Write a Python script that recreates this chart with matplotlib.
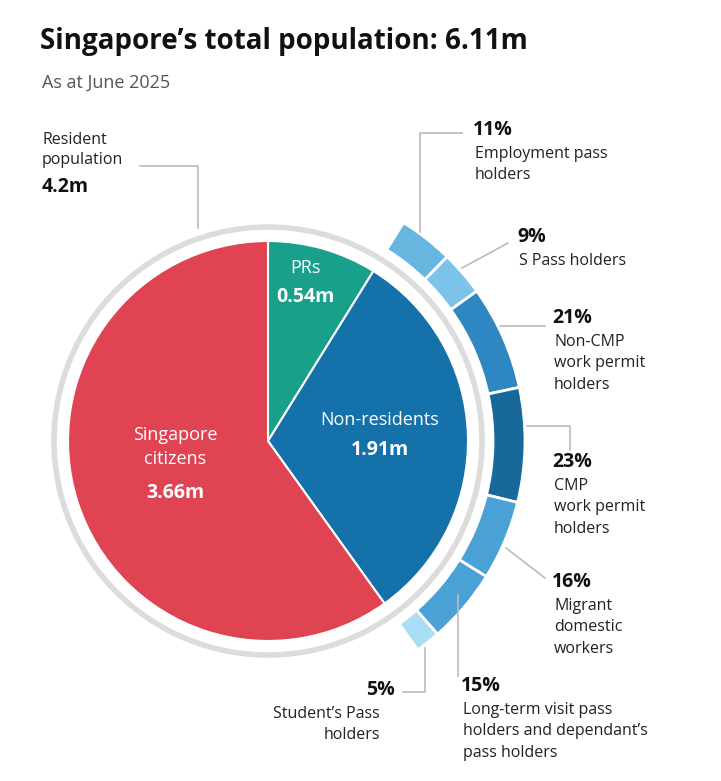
import matplotlib.pyplot as plt

# data
groups = ["PRs", "Non-residents", "Singapore citizens"]
group_values = [0.54, 1.91, 3.66]
group_colors = ["#18a08a", "#1571aa", "#e04453"]

pass_labels = ["Employment pass\nholders", "S Pass holders", "Non-CMP\nwork permit\nholders",
               "CMP\nwork permit\nholders", "Migrant\ndomestic\nworkers",
               "Long-term visit pass\nholders and dependant\u2019s\npass holders",
               "Student\u2019s Pass\nholders"]
pass_shares = [11, 9, 21, 23, 16, 15, 5]
pass_colors = ["#67b6e0", "#7cc3ea", "#2e87c2", "#18699a", "#4aa1d6", "#4aa1d6", "#a9def6"]

plt.rcParams["font.family"] = ["Open Sans", "DejaVu Sans"]
fig = plt.figure(figsize=(7.21, 7.81), dpi=100)
ax = fig.add_axes([0, 0, 1, 1])

cx, cy = 268, 441

# y axis is flipped, so start at -90 and go counterclockwise in data = clockwise on screen
ax.pie(group_values, colors=group_colors, startangle=-90, counterclock=True,
       center=(cx, cy), radius=200, frame=True,
       wedgeprops=dict(edgecolor="white", linewidth=1.5))

ring = plt.Circle((cx, cy), 214, fill=False, edgecolor="#dcdcdc", linewidth=4)
ax.add_patch(ring)

nonres = group_values[1]
outer_vals = [group_values[0]] + [nonres * s / sum(pass_shares) for s in pass_shares] + [group_values[2]]
outer_cols = ["none"] + pass_colors + ["none"]
wedges, _ = ax.pie(outer_vals, colors=outer_cols, startangle=-90, counterclock=True,
                   center=(cx, cy), radius=257, frame=True,
                   wedgeprops=dict(width=32, edgecolor="white", linewidth=2))
wedges[0].set_edgecolor("none")
wedges[-1].set_edgecolor("none")

ax.set_xlim(0, 721)
ax.set_ylim(781, 0)
ax.set_aspect("equal")
ax.axis("off")

# titles
ax.text(40, 42, "Singapore\u2019s total population: 6.11m", fontsize=20, fontweight="bold",
        va="center", color="#111")
ax.text(42, 83, "As at June 2025", fontsize=13, va="center", color="#555")

# inner labels
ax.text(305, 268, "PRs", color="white", fontsize=13, ha="center", va="center")
ax.text(305, 297, "0.54m", color="white", fontsize=14, fontweight="bold", ha="center", va="center")
ax.text(380, 420, "Non-residents", color="white", fontsize=13, ha="center", va="center")
ax.text(380, 450, "1.91m", color="white", fontsize=14, fontweight="bold", ha="center", va="center")
ax.text(175, 447, "Singapore\ncitizens", color="white", fontsize=13, ha="center", va="center",
        linespacing=1.4)
ax.text(175, 493, "3.66m", color="white", fontsize=14, fontweight="bold", ha="center", va="center")

# resident label
lc = "#bbbbbb"
ax.plot([198, 198, 140], [228, 166, 166], color=lc, lw=1.2)
ax.text(42, 150, "Resident\npopulation", fontsize=11.5, va="center", color="#222", linespacing=1.4)
ax.text(42, 187, "4.2m", fontsize=14, fontweight="bold", va="center", color="#111")

# outer labels
label_pos = [(473, 130), (517, 237), (552, 318), (552, 462), (552, 582), (461, 686), (395, 690)]
leaders = [([420, 420, 462], [232, 133, 133]),
           ([462, 508], [268, 243]),
           ([500, 545], [326, 326]),
           ([527, 570, 570], [426, 426, 450]),
           ([506, 545], [548, 578]),
           ([458, 458], [595, 676]),
           ([425, 425, 403], [648, 692, 692])]
for (x, y), (lx, ly), s, lab in zip(label_pos, leaders, pass_shares, pass_labels):
    ax.plot(lx, ly, color=lc, lw=1.2)
    ha = "right" if x < 400 else "left"
    ax.text(x, y, f"{s}%", fontsize=14, fontweight="bold", ha=ha, va="center", color="#111")
    tx = x - 15 if ha == "right" else x + 2
    ax.text(tx, y + 16, lab, fontsize=11.5, ha=ha, va="top", color="#222", linespacing=1.45)

fig.savefig("out.png", dpi=100, facecolor="white")
